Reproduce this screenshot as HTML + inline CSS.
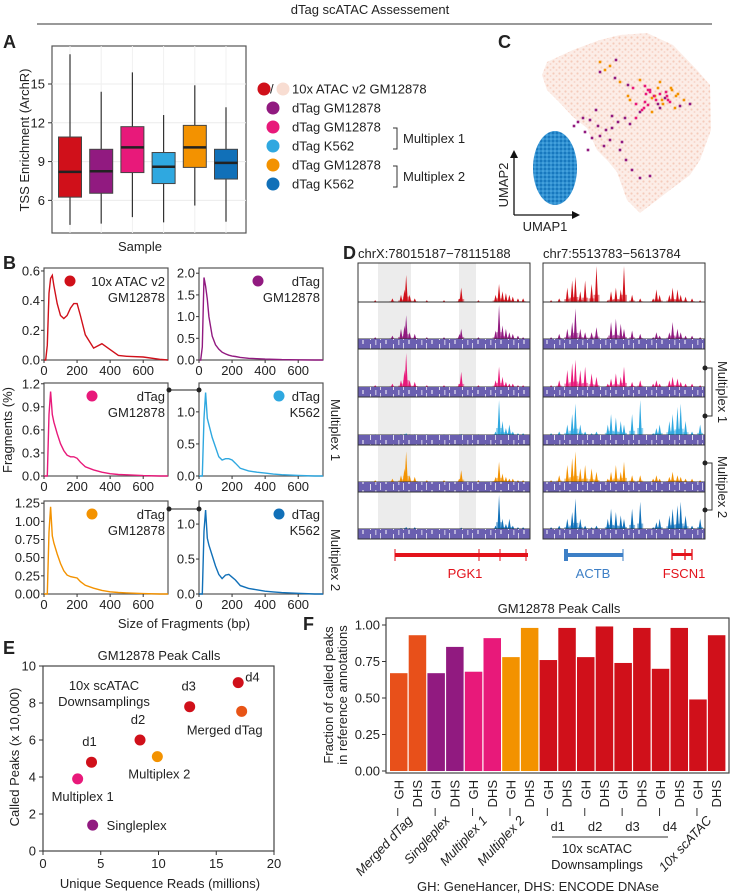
<!DOCTYPE html>
<html><head><meta charset="utf-8">
<style>
html,body{margin:0;padding:0;background:#fff;}
svg{display:block;font-family:"Liberation Sans",Arial,sans-serif;}
.t{fill:#222;}
</style></head>
<body>
<svg id="fig" width="733" height="896" viewBox="0 0 733 896" xmlns="http://www.w3.org/2000/svg">
<defs>
<pattern id="stripe" width="23" height="10" patternUnits="userSpaceOnUse">
<rect width="23" height="10" fill="#6a5fb0"/>
<rect x="2" y="4" width="1" height="6" fill="#fff" opacity="0.8"/>
<rect x="7" y="0" width="1.5" height="5" fill="#fff" opacity="0.5"/>
<rect x="12" y="3" width="1" height="7" fill="#fff" opacity="0.7"/>
<rect x="17" y="0" width="2" height="4" fill="#fff" opacity="0.5"/>
</pattern>
<pattern id="peach" width="6" height="6" patternUnits="userSpaceOnUse">
<rect width="6" height="6" fill="#fcebe4"/>
<circle cx="1.5" cy="1.5" r="1.1" fill="#f0b59f" opacity="0.7"/>
<circle cx="4.5" cy="4" r="1" fill="#f3c2b0" opacity="0.6"/>
</pattern>
<pattern id="bluedots" width="4" height="4" patternUnits="userSpaceOnUse">
<rect width="4" height="4" fill="#2f8fd0"/>
<circle cx="1" cy="1" r="1" fill="#1070b8"/>
<circle cx="3" cy="3" r="0.8" fill="#5ab4ea"/>
</pattern>
</defs>

<text x="370" y="14" text-anchor="middle" font-size="13" class="t">dTag scATAC Assessement</text>
<line x1="37" y1="24" x2="712" y2="24" stroke="#333" stroke-width="1"/>

<g font-weight="bold" font-size="18" class="t">
<text x="3" y="48">A</text><text x="498" y="48">C</text><text x="3" y="269">B</text>
<text x="343" y="259">D</text><text x="3" y="654">E</text><text x="303" y="630">F</text>
</g>

<!-- Panel A -->
<g id="panelA">
<rect x="52" y="46" width="194" height="187" fill="#fff" stroke="#555" stroke-width="1.2"/>
<g id="agrid"></g><g id="aboxes"></g><g id="aticks"></g>
<text transform="translate(29,140) rotate(-90)" text-anchor="middle" font-size="13" class="t">TSS Enrichment (ArchR)</text>
<text x="140" y="251" text-anchor="middle" font-size="13" class="t">Sample</text>
</g>

<!-- Legend -->
<g font-size="13" class="t">
<circle cx="264" cy="89" r="6.5" fill="#d0101a"/><text x="270" y="93.5">/</text><circle cx="283" cy="89" r="6.5" fill="#f8ddd2"/>
<text x="292" y="93.5">10x ATAC v2 GM12878</text>
<circle cx="273" cy="108" r="6.5" fill="#911a80"/><text x="292" y="112.5">dTag GM12878</text>
<circle cx="273" cy="127" r="6.5" fill="#e8197a"/><text x="292" y="131.5">dTag GM12878</text>
<circle cx="273" cy="146" r="6.5" fill="#2fa8e0"/><text x="292" y="150.5">dTag K562</text>
<circle cx="273" cy="165" r="6.5" fill="#f39200"/><text x="292" y="169.5">dTag GM12878</text>
<circle cx="273" cy="184" r="6.5" fill="#1170b8"/><text x="292" y="188.5">dTag K562</text>
<path d="M393 128 H397 V149 H393 M393 166 H397 V187 H393" fill="none" stroke="#333"/>
<text x="403" y="143">Multiplex 1</text><text x="403" y="181">Multiplex 2</text>
</g>

<!-- Panel C UMAP -->
<g id="panelC">
<polygon points="542,75 547,62 573,50 600,40 620,35 647,33 673,45 697,70 710,85 711,130 700,160 690,175 670,190 657,200 640,213 627,200 617,172 607,160 597,150 587,128 573,117 560,103 547,90" fill="url(#peach)" opacity="0.9"/>
<ellipse cx="555" cy="168" rx="22" ry="37" fill="url(#bluedots)"/>
<g id="umappts"></g>
<path d="M514 215 V156 M514 215 H575" stroke="#111" stroke-width="1.3" fill="none"/>
<polygon points="514,150 510,158 518,158" fill="#111"/><polygon points="580,215 572,211 572,219" fill="#111"/>
<text x="545" y="231" text-anchor="middle" font-size="13" class="t">UMAP1</text>
<text transform="translate(508,185) rotate(-90)" text-anchor="middle" font-size="13" class="t">UMAP2</text>
</g>

<!-- Panel B -->
<g id="panelB">
<text transform="translate(12,430) rotate(-90)" text-anchor="middle" font-size="13" class="t">Fragments (%)</text>
<text x="184" y="628" text-anchor="middle" font-size="13" class="t">Size of Fragments (bp)</text>
<text transform="translate(331,430) rotate(90)" text-anchor="middle" font-size="13" class="t">Multiplex 1</text>
<text transform="translate(331,560) rotate(90)" text-anchor="middle" font-size="13" class="t">Multiplex 2</text>
<g id="bplots"></g>
<path d="M169 390 H199" stroke="#222" stroke-width="1"/>
<circle cx="169" cy="390" r="2.5" fill="#222"/><circle cx="199" cy="390" r="2.5" fill="#222"/>
<path d="M169 509 H199" stroke="#222" stroke-width="1"/>
<circle cx="169" cy="509" r="2.5" fill="#222"/><circle cx="199" cy="509" r="2.5" fill="#222"/>
</g>

<!-- Panel D -->
<g id="panelD">
<text x="358" y="258" font-size="13" class="t">chrX:78015187−78115188</text>
<text x="543" y="258" font-size="13" class="t">chr7:5513783−5613784</text>
<rect x="378" y="263" width="33" height="276" fill="#ececec"/>
<rect x="459" y="263" width="17" height="276" fill="#ececec"/>
<g id="tracks"></g>
<rect x="358" y="263" width="172" height="276" fill="none" stroke="#333"/>
<rect x="543" y="263" width="162" height="276" fill="none" stroke="#333"/>
<path d="M705 368 H712 V416 H705 M705 463 H712 V510 H705" stroke="#333" fill="none"/>
<circle cx="705" cy="368" r="2.5" fill="#222"/><circle cx="705" cy="416" r="2.5" fill="#222"/>
<circle cx="705" cy="463" r="2.5" fill="#222"/><circle cx="705" cy="510" r="2.5" fill="#222"/>
<text transform="translate(718,392) rotate(90)" text-anchor="middle" font-size="13" class="t">Multiplex 1</text>
<text transform="translate(718,487) rotate(90)" text-anchor="middle" font-size="13" class="t">Multiplex 2</text>
<g>
<rect x="395" y="553" width="133" height="4" fill="#e3121b"/>
<path d="M395 549 V561 M479 549 V561 M500 549 V561 M526 549 V561" stroke="#e3121b" stroke-width="1"/>
<text x="465" y="578" text-anchor="middle" font-size="13" fill="#e3121b">PGK1</text></g>
<g>
<rect x="565" y="553" width="58" height="4" fill="#3d7fc6"/><rect x="564" y="549" width="4" height="12" fill="#3d7fc6"/>
<path d="M623 549 V561" stroke="#3d7fc6"/>
<text x="593" y="578" text-anchor="middle" font-size="13" fill="#3d7fc6">ACTB</text></g>
<g>
<rect x="672" y="553" width="20" height="3" fill="#e3121b"/>
<path d="M672 549 V560 M685 549 V560 M692 549 V560" stroke="#e3121b" stroke-width="1.3"/>
<text x="684" y="578" text-anchor="middle" font-size="13" fill="#e3121b">FSCN1</text></g>
</g>

<!-- Panel E -->
<g id="panelE">
<text x="159" y="660" text-anchor="middle" font-size="13" class="t">GM12878 Peak Calls</text>
<rect x="43" y="666" width="231" height="185" fill="#fff" stroke="#444" stroke-width="1.2"/>
<g id="eaxes"></g><g id="epts"></g>
<text transform="translate(19,757) rotate(-90)" text-anchor="middle" font-size="13" class="t">Called Peaks (x 10,000)</text>
<text x="160" y="888" text-anchor="middle" font-size="13" class="t">Unique Sequence Reads (millions)</text>
<text x="104" y="690" text-anchor="middle" font-size="13" class="t">10x scATAC</text>
<text x="104" y="706" text-anchor="middle" font-size="13" class="t">Downsamplings</text>
</g>

<!-- Panel F -->
<g id="panelF">
<text x="559" y="613" text-anchor="middle" font-size="13" class="t">GM12878 Peak Calls</text>
<rect x="386" y="618" width="343" height="155" fill="#fff" stroke="#444" stroke-width="1.2"/>
<g id="fbars"></g>
<text transform="translate(333,695) rotate(-90)" text-anchor="middle" font-size="13" class="t">Fraction of called peaks</text>
<text transform="translate(347,695) rotate(-90)" text-anchor="middle" font-size="13" class="t">in reference annotations</text>
<path d="M552 837 H668" stroke="#333"/>
<text x="597" y="853" text-anchor="middle" font-size="13" class="t">10x scATAC</text>
<text x="597" y="869" text-anchor="middle" font-size="13" class="t">Downsamplings</text>
<text x="538" y="891" text-anchor="middle" font-size="13" class="t">GH: GeneHancer, DHS: ENCODE DNAse</text>
</g>
</svg>

<script>
const NS="http://www.w3.org/2000/svg";
function mk(tag,attrs,parent){const e=document.createElementNS(NS,tag);for(const k in attrs)e.setAttribute(k,attrs[k]);parent.appendChild(e);return e;}
const $=id=>document.getElementById(id);
const FS=13;

/* ---------- Panel A data ---------- */
const aSamples=["10x ATAC v2 GM12878","dTag GM12878","Mplex1 GM12878","Mplex1 K562","Mplex2 GM12878","Mplex2 K562"];
const aColors=["#d0101a","#911a80","#e8197a","#2fa8e0","#f39200","#1170b8"];
const aQ1=[6.25,6.55,8.15,7.3,8.55,7.65];
const aMed=[8.2,8.25,10.1,8.6,10.1,8.9];
const aQ3=[10.9,9.95,11.7,9.7,11.8,9.95];
const aLo=[4.1,4.2,4.7,4.3,5.6,4.35];
const aHi=[17.3,14.4,15.9,12.6,14.9,13.2];
const aTicks=[6,9,12,15];
const ay=v=>84+(15-v)*12.93;
const ax=i=>70+i*31.2;
aTicks.forEach(t=>{
 let g=mk('line',{x1:52,x2:246,y1:ay(t),y2:ay(t),stroke:'#ececec'},$('agrid'));
 
 
 mk('line',{x1:48,x2:52,y1:ay(t),y2:ay(t),stroke:'#333'},$('aticks'));
 let tx=mk('text',{x:45,y:ay(t)+4.5,'text-anchor':'end','font-size':FS,fill:'#222'},$('aticks'));
 tx.textContent=t;
 
 
});
aSamples.forEach((s,i)=>{
 mk('line',{x1:ax(i),x2:ax(i),y1:46,y2:233,stroke:'#f0f0f0'},$('agrid'));
 const g=mk('g',{},$('aboxes'));
 
 
 mk('line',{x1:ax(i),x2:ax(i),y1:ay(aHi[i]),y2:ay(aLo[i]),stroke:'#333','stroke-width':1.2},g);
 mk('rect',{x:ax(i)-11.5,y:ay(aQ3[i]),width:23,height:ay(aQ1[i])-ay(aQ3[i]),fill:aColors[i],stroke:'#444','stroke-width':1},g);
 mk('line',{x1:ax(i)-11.5,x2:ax(i)+11.5,y1:ay(aMed[i]),y2:ay(aMed[i]),stroke:'#222','stroke-width':2.5},g);
});

/* ---------- Panel C colored cells ---------- */
const umapX=[600,605,610,615,620,628,633,640,645,650,655,660,665,668,672,645,648,652,656,660,663,667,670,675,680,640,636,630,625,618,612,606,598,590,583,578,574,585,592,600,610,620,626,632,640,650,622,604,588,660,671,678,642,612,596,630,648,658,666,676,684,690,628,636,644,652,600,616,646,654,662,650,658];
const umapY=[72,70,66,78,82,85,88,80,86,92,96,94,98,100,90,102,105,98,100,108,104,96,102,108,106,112,118,124,118,122,128,130,126,120,118,122,126,132,138,136,140,150,160,170,178,176,142,146,150,82,88,94,110,116,110,100,90,88,92,96,100,104,96,104,108,112,62,60,94,96,100,90,104];
const umapType=[1,2,2,1,2,1,0,2,0,0,2,0,1,0,2,0,0,2,0,1,2,0,0,2,1,1,0,1,1,1,1,1,1,1,1,1,1,1,1,1,1,1,1,1,1,1,1,1,1,2,2,2,0,1,1,2,0,2,0,2,2,1,2,0,0,2,2,1,0,0,2,0,1];
const umapCol=["#e8197a","#911a80","#f39200"];
umapX.forEach((x,i)=>{
 const c=mk('rect',{x:x-1.3,y:umapY[i]-1.3,width:2.6,height:2.6,fill:umapCol[umapType[i]]},$('umappts'));
 
 
});

/* ---------- Panel B data ---------- */
const fragX=[0,10,20,30,40,50,60,80,100,120,140,160,180,200,220,250,300,350,400,450,500,600,700,750];
const frag10x=[0,0,0.1,0.45,0.55,0.57,0.5,0.38,0.3,0.28,0.3,0.35,0.38,0.38,0.3,0.17,0.08,0.11,0.07,0.03,0.025,0.02,0.005,0];
const fragSingle=[0,0,0.3,1.9,1.7,1.4,1.0,0.55,0.35,0.25,0.18,0.14,0.11,0.09,0.08,0.06,0.04,0.03,0.02,0.015,0.01,0.005,0,0];
const fragM1GM=[0,0,0,0.8,1.1,0.8,0.7,0.55,0.42,0.33,0.27,0.25,0.25,0.23,0.18,0.12,0.08,0.05,0.03,0.02,0.015,0.005,0,0];
const fragM1K=[0,0,0,0.9,1.3,0.9,0.8,0.6,0.45,0.3,0.25,0.27,0.27,0.25,0.2,0.12,0.08,0.06,0.045,0.03,0.02,0.01,0,0];
const fragM2GM=[0,0,0,0.85,1.2,0.8,0.7,0.55,0.42,0.32,0.26,0.24,0.23,0.22,0.17,0.12,0.08,0.05,0.03,0.02,0.015,0.005,0,0];
const fragM2K=[0,0,0,0.9,1.2,0.8,0.7,0.55,0.4,0.28,0.22,0.27,0.28,0.24,0.2,0.12,0.08,0.06,0.04,0.03,0.02,0.01,0,0];
const xTicksB=[0,200,400,600];
const bPanels=[
 {d:frag10x,c:"#d0101a",x0:44,y0:268,y1:360,max:0.62,ticks:[0,0.2,0.4,0.6],fmt:1,l1:"10x ATAC v2",l2:"GM12878",lx:70},
 {d:fragSingle,c:"#911a80",x0:199,y0:268,y1:360,max:2.12,ticks:[0,0.5,1,1.5,2],fmt:1,l1:"dTag",l2:"GM12878",lx:258},
 {d:fragM1GM,c:"#e8197a",x0:44,y0:383,y1:476,max:1.21,ticks:[0,0.3,0.6,0.9,1.2],fmt:1,l1:"dTag",l2:"GM12878",lx:92},
 {d:fragM1K,c:"#2fa8e0",x0:199,y0:383,y1:476,max:1.45,ticks:[0,0.5,1],fmt:1,l1:"dTag",l2:"K562",lx:279},
 {d:fragM2GM,c:"#f39200",x0:44,y0:501,y1:594,max:1.28,ticks:[0,0.25,0.5,0.75,1,1.25],fmt:2,l1:"dTag",l2:"GM12878",lx:92},
 {d:fragM2K,c:"#1170b8",x0:199,y0:501,y1:594,max:1.33,ticks:[0,0.5,1],fmt:1,l1:"dTag",l2:"K562",lx:279}
];
bPanels.forEach((p,pi)=>{
 const g=mk('g',{},$('bplots'));
 
 
 const W=124, sx=v=>p.x0+v/750*W, sy=v=>p.y1-v/p.max*(p.y1-p.y0);
 mk('rect',{x:p.x0,y:p.y0,width:W,height:p.y1-p.y0,fill:'#fff',stroke:'#555','stroke-width':1.2},g);
 const pts=fragX.map((x,i)=>sx(x).toFixed(1)+','+sy(p.d[i]).toFixed(1)).join(' ');
 const ln=mk('polyline',{points:pts,fill:'none',stroke:p.c,'stroke-width':1.4},g);
 
 
 p.ticks.forEach(t=>{
  mk('line',{x1:p.x0-3,x2:p.x0,y1:sy(t),y2:sy(t),stroke:'#333'},g);
  const tx=mk('text',{x:p.x0-4,y:sy(t)+4.5,'text-anchor':'end','font-size':FS,fill:'#222'},g);
  tx.textContent=t.toFixed(p.fmt);
 });
 xTicksB.forEach(t=>{
  mk('line',{x1:sx(t),x2:sx(t),y1:p.y1,y2:p.y1+3,stroke:'#333'},g);
  const tx=mk('text',{x:sx(t),y:p.y1+15,'text-anchor':'middle','font-size':FS,fill:'#222'},g);
  tx.textContent=t;
 });
 mk('circle',{cx:p.lx,cy:p.y0+13,r:5.5,fill:p.c},g);
 const t1=mk('text',{x:p.x0+W-3,y:p.y0+18,'text-anchor':'end','font-size':FS,fill:'#222'},g);t1.textContent=p.l1;
 const t2=mk('text',{x:p.x0+W-3,y:p.y0+34,'text-anchor':'end','font-size':FS,fill:'#222'},g);t2.textContent=p.l2;
});

/* ---------- Panel D data (peak position fraction, height fraction) ---------- */
const trackColors=["#d0101a","#911a80","#e8197a","#2fa8e0","#f39200","#1170b8"];
const leftPos=[0.1,0.2,0.25,0.27,0.28,0.3,0.33,0.4,0.5,0.59,0.6,0.7,0.8,0.82,0.84,0.86,0.88,0.9,0.93,0.96];
const leftH=[
 [0.05,0.1,0.2,0.35,0.75,0.2,0.1,0.05,0.05,0.1,0.4,0.05,0.2,0.5,0.3,0.25,0.2,0.15,0.1,0.1],
 [0.05,0.1,0.3,0.4,0.7,0.2,0.15,0.05,0.05,0.15,0.3,0.05,0.25,1.0,0.4,0.3,0.2,0.15,0.1,0.05],
 [0.05,0.1,0.2,0.5,1.0,0.2,0.15,0.05,0.05,0.1,0.45,0.05,0.2,0.6,0.3,0.15,0.1,0.1,0.05,0.05],
 [0.02,0.02,0.03,0.03,0.05,0.02,0.02,0.02,0.02,0.02,0.03,0.02,0.1,1.0,0.4,0.2,0.3,0.1,0.05,0.05],
 [0.05,0.1,0.2,0.4,0.9,0.2,0.15,0.05,0.05,0.1,0.35,0.05,0.15,0.6,0.25,0.15,0.1,0.1,0.05,0.05],
 [0.02,0.02,0.03,0.03,0.06,0.03,0.05,0.02,0.02,0.02,0.04,0.02,0.1,1.0,0.3,0.15,0.3,0.1,0.05,0.05]
];
const rightPos=[0.05,0.1,0.15,0.18,0.2,0.23,0.26,0.3,0.33,0.4,0.42,0.45,0.48,0.5,0.55,0.6,0.68,0.7,0.72,0.78,0.8,0.83,0.85,0.88,0.92,0.97];
const rightH=[
 [0.05,0.1,0.4,0.6,0.7,0.3,0.6,0.5,1.0,0.05,0.3,0.4,0.35,1.0,0.2,0.1,0.1,0.35,0.2,0.2,0.4,0.35,0.2,0.15,0.1,0.05],
 [0.05,0.15,0.3,0.5,0.9,0.3,0.2,0.2,0.35,0.05,0.5,0.6,0.45,0.3,0.25,0.15,0.05,0.2,0.1,0.2,0.5,0.3,0.2,0.1,0.1,0.05],
 [0.05,0.2,0.5,0.7,0.8,0.5,0.6,0.4,0.3,0.1,0.25,0.4,0.3,0.6,0.15,0.2,0.1,0.2,0.1,0.2,0.3,0.25,0.15,0.1,0.1,0.05],
 [0.05,0.1,0.3,0.6,0.9,0.3,0.1,0.05,0.1,0.3,0.6,0.5,0.4,0.3,0.6,1.0,0.05,0.2,0.3,0.4,0.6,0.8,0.9,0.4,0.1,0.3],
 [0.05,0.2,0.5,0.7,0.9,0.4,0.5,0.4,0.3,0.1,0.3,0.5,0.3,0.6,0.2,0.2,0.1,0.2,0.1,0.15,0.3,0.2,0.15,0.1,0.1,0.05],
 [0.05,0.1,0.3,0.5,0.9,0.3,0.1,0.05,0.1,0.3,0.6,0.5,0.4,0.3,0.6,0.8,0.05,0.2,0.3,0.4,0.6,0.7,0.8,0.4,0.1,0.3]
];
const trackBase=[302,339,387,435,482,529];
const trackTop=[263,302,350,397,445,492];
function drawTrack(x0,W,pos,H,ti,name){
 const g=mk('g',{},$('tracks'));
 
 
 const base=trackBase[ti], hh=base-trackTop[ti]-3;
 pos.forEach((p,i)=>{
  const h=H[ti][i]*hh, x=x0+p*W;
  const pk=mk('polygon',{points:`${x-1.6},${base} ${x},${base-h} ${x+1.6},${base}`,fill:trackColors[ti]},g);
  
  
  mk('rect',{x:x-3,y:base-h*0.2,width:6,height:h*0.2,fill:trackColors[ti],opacity:0.5},g);
 });
 mk('line',{x1:x0,x2:x0+W,y1:base,y2:base,stroke:'#333','stroke-width':1},g);
 if(ti>0){
  mk('rect',{x:x0,y:base,width:W,height:10,fill:'url(#stripe)'},g);
  mk('line',{x1:x0,x2:x0+W,y1:base+10,y2:base+10,stroke:'#333','stroke-width':1},g);
 }
}
for(let t=0;t<6;t++){drawTrack(358,172,leftPos,leftH,t,'left');drawTrack(543,162,rightPos,rightH,t,'right');}

/* ---------- Panel E data ---------- */
const eLabels=["Multiplex 1","d1","Singleplex","d2","Multiplex 2","d3","d4","Merged dTag"];
const eReads=[3.0,4.2,4.3,8.4,9.9,12.7,16.9,17.2];
const ePeaks=[3.9,4.8,1.4,6.0,5.1,7.8,9.1,7.55];
const eColors=["#e8197a","#d0101a","#911a80","#d0101a","#f39200","#d0101a","#d0101a","#e85416"];
const eLabDx=[5,-2,14,-2,2,-1,7,-17];
const eLabDy=[22,-16,5,-16,22,-16,-1,23];
const eAnchor=["middle","middle","start","middle","middle","middle","start","middle"];
const eXTicks=[0,5,10,15,20], eYTicks=[0,2,4,6,8,10];
const ex=v=>43+v/20*231, ey=v=>851-v/10*185;
eXTicks.forEach(t=>{
 mk('line',{x1:ex(t),x2:ex(t),y1:851,y2:855,stroke:'#333'},$('eaxes'));
 const tx=mk('text',{x:ex(t),y:868,'text-anchor':'middle','font-size':FS,fill:'#222'},$('eaxes'));tx.textContent=t;
});
eYTicks.forEach(t=>{
 mk('line',{x1:39,x2:43,y1:ey(t),y2:ey(t),stroke:'#333'},$('eaxes'));
 const tx=mk('text',{x:36,y:ey(t)+4.5,'text-anchor':'end','font-size':FS,fill:'#222'},$('eaxes'));tx.textContent=t;
});
eReads.forEach((r,i)=>{
 const c=mk('circle',{cx:ex(r),cy:ey(ePeaks[i]),r:5.5,fill:eColors[i]},$('epts'));
 
 
 const tx=mk('text',{x:ex(r)+eLabDx[i],y:ey(ePeaks[i])+eLabDy[i],'text-anchor':eAnchor[i],'font-size':FS,fill:'#222'},$('epts'));
 tx.textContent=eLabels[i];
});

/* ---------- Panel F data ---------- */
const fCats=["GH","DHS","GH","DHS","GH","DHS","GH","DHS","GH","DHS","GH","DHS","GH","DHS","GH","DHS","GH","DHS"];
const fVals=[0.67,0.93,0.67,0.85,0.68,0.91,0.78,0.98,0.76,0.98,0.78,0.99,0.74,0.98,0.70,0.98,0.49,0.93];
const fColors=["#e8501a","#e8501a","#911a80","#911a80","#e8197a","#e8197a","#f39200","#f39200","#d0101a","#d0101a","#d0101a","#d0101a","#d0101a","#d0101a","#d0101a","#d0101a","#d0101a","#d0101a"];
const fGroups=["Merged dTag","Singleplex","Multiplex 1","Multiplex 2","d1","d2","d3","d4","10x scATAC"];
const fGroupRot=[1,1,1,1,0,0,0,0,1];
const fTicks=[0,0.25,0.5,0.75,1.0];
const fy=v=>771-v*146, fx=i=>390+i*18.7;
fTicks.forEach(t=>{
 mk('line',{x1:382,x2:386,y1:fy(t),y2:fy(t),stroke:'#333'},$('fbars'));
 const tx=mk('text',{x:380,y:fy(t)+4.5,'text-anchor':'end','font-size':FS,fill:'#222'},$('fbars'));tx.textContent=t.toFixed(2);
});
fVals.forEach((v,i)=>{
 const b=mk('rect',{x:fx(i),y:fy(v),width:17.5,height:fy(0)-fy(v),fill:fColors[i]},$('fbars'));
 
 
 const cx=fx(i)+8.75;
 const tx=mk('text',{transform:`translate(${cx+4.5},780) rotate(-90)`,'text-anchor':'end','font-size':FS,fill:'#222'},$('fbars'));
 tx.textContent=fCats[i];
 if(i%2==0) mk('line',{x1:cx-1,x2:cx-1,y1:808,y2:816,stroke:'#333'},$('fbars'));
});
fGroups.forEach((g,k)=>{
 const cx=fx(2*k)+18.1;
 let tx;
 if(fGroupRot[k]) tx=mk('text',{transform:`translate(${cx+5},821) rotate(-47)`,'text-anchor':'end','font-size':FS,'font-style':'italic',fill:'#222'},$('fbars'));
 else tx=mk('text',{x:cx,y:831,'text-anchor':'middle','font-size':FS,fill:'#222'},$('fbars'));
 tx.textContent=g;
});
</script>
</body></html>
